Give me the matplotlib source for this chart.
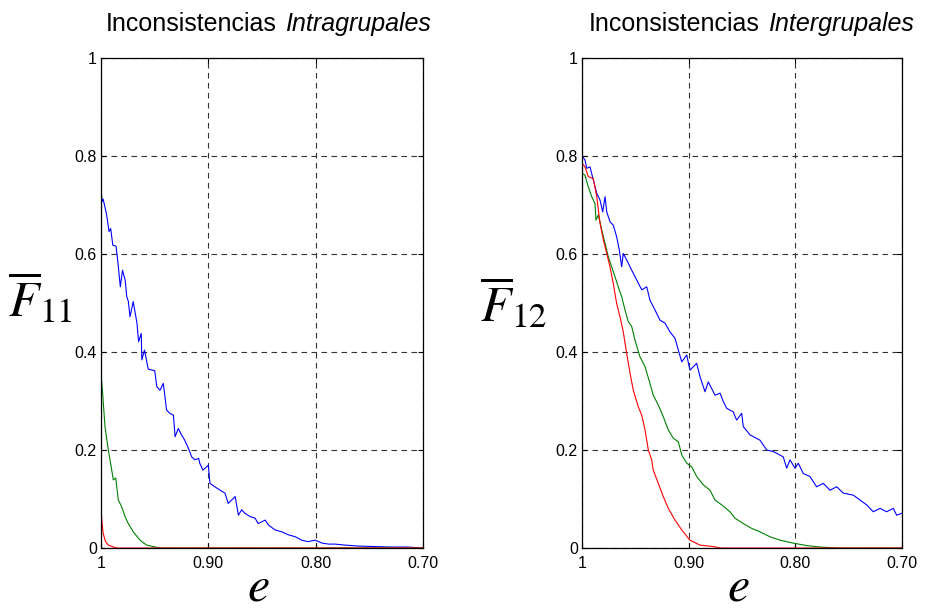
import matplotlib
matplotlib.use('Agg')
import matplotlib.pyplot as plt
from matplotlib.offsetbox import AnchoredOffsetbox, HPacker, TextArea

plt.rcParams['font.family'] = ['Liberation Sans', 'DejaVu Sans']
plt.rcParams['mathtext.fontset'] = 'stix'

# intragroup inconsistency, F11
L_BLUE_X = [1.000, 0.999, 0.998, 0.995, 0.9925, 0.991, 0.989, 0.986, 0.9845, 0.982, 0.980, 0.9775,
            0.976, 0.9745, 0.973, 0.970, 0.9665, 0.965, 0.9625, 0.962, 0.9595, 0.956, 0.950, 0.948,
            0.945, 0.942, 0.940, 0.939, 0.936, 0.9325, 0.931, 0.928, 0.925, 0.922, 0.9185, 0.9155,
            0.9125, 0.909, 0.908, 0.905, 0.900, 0.8985, 0.894, 0.889, 0.8845, 0.8815, 0.875, 0.872,
            0.869, 0.866, 0.861, 0.8565, 0.8535, 0.847, 0.844, 0.838, 0.8315, 0.8255, 0.819, 0.813,
            0.807, 0.8005, 0.794, 0.788, 0.782, 0.773, 0.760, 0.745, 0.730, 0.715, 0.700]
L_BLUE_Y = [0.734, 0.707, 0.712, 0.683, 0.646, 0.652, 0.618, 0.616, 0.588, 0.533, 0.567, 0.547,
            0.513, 0.503, 0.472, 0.503, 0.459, 0.421, 0.438, 0.384, 0.404, 0.365, 0.362, 0.329,
            0.322, 0.336, 0.302, 0.282, 0.275, 0.271, 0.227, 0.244, 0.231, 0.220, 0.203, 0.186,
            0.180, 0.183, 0.173, 0.159, 0.169, 0.132, 0.125, 0.118, 0.112, 0.091, 0.105, 0.067,
            0.078, 0.071, 0.064, 0.061, 0.050, 0.057, 0.047, 0.037, 0.033, 0.027, 0.023, 0.016,
            0.013, 0.016, 0.010, 0.008, 0.008, 0.006, 0.004, 0.003, 0.002, 0.002, 0.000]
L_GREEN_X = [1.000, 0.9985, 0.9963, 0.9932, 0.9916, 0.9885, 0.9863, 0.9839, 0.9807, 0.9776,
             0.9746, 0.9699, 0.9652, 0.9621, 0.9574, 0.9513, 0.945, 0.700]
L_GREEN_Y = [0.357, 0.316, 0.248, 0.200, 0.180, 0.139, 0.143, 0.098, 0.084, 0.064,
             0.050, 0.033, 0.020, 0.013, 0.006, 0.003, 0.000, 0.000]
L_RED_X = [1.000, 0.9990, 0.998, 0.9958, 0.9932, 0.9885, 0.985, 0.700]
L_RED_Y = [0.078, 0.051, 0.030, 0.013, 0.006, 0.002, 0.000, 0.000]

# intergroup inconsistency, F12
R_BLUE_X = [1.000, 0.9972, 0.9956, 0.9925, 0.9894, 0.9862, 0.9831, 0.9806, 0.9784, 0.9768, 0.9738,
            0.9707, 0.9675, 0.9650, 0.9628, 0.9613, 0.9581, 0.9534, 0.9487, 0.9440, 0.9393, 0.9363,
            0.9316, 0.9269, 0.9222, 0.9175, 0.9128, 0.9097, 0.9065, 0.9018, 0.8988, 0.8925, 0.8894,
            0.8847, 0.8816, 0.8753, 0.8706, 0.8675, 0.8643, 0.8582, 0.8550, 0.8503, 0.8488, 0.8425,
            0.8331, 0.8268, 0.8207, 0.8113, 0.8081, 0.8050, 0.8003, 0.7972, 0.7925, 0.7863, 0.7800,
            0.7738, 0.7675, 0.7612, 0.7550, 0.7457, 0.7394, 0.7331, 0.7269, 0.7206, 0.7144, 0.7081,
            0.7050, 0.7000]
R_BLUE_Y = [0.800, 0.792, 0.775, 0.778, 0.751, 0.724, 0.710, 0.686, 0.717, 0.686, 0.666,
            0.659, 0.635, 0.608, 0.574, 0.601, 0.588, 0.567, 0.547, 0.527, 0.533, 0.506,
            0.486, 0.465, 0.459, 0.441, 0.428, 0.404, 0.380, 0.394, 0.363, 0.377, 0.350,
            0.319, 0.339, 0.312, 0.316, 0.299, 0.285, 0.278, 0.261, 0.275, 0.248, 0.231,
            0.220, 0.200, 0.197, 0.186, 0.163, 0.180, 0.163, 0.173, 0.152, 0.146, 0.125,
            0.132, 0.118, 0.125, 0.112, 0.108, 0.098, 0.088, 0.074, 0.081, 0.074, 0.081,
            0.067, 0.071]
R_GREEN_X = [1.000, 0.9972, 0.9941, 0.9909, 0.9878, 0.9869, 0.9847, 0.9815, 0.9784, 0.9753,
             0.9722, 0.9691, 0.9660, 0.9628, 0.9597, 0.9566, 0.9534, 0.9503, 0.9456, 0.9409,
             0.9363, 0.9332, 0.9285, 0.9238, 0.9191, 0.9144, 0.9097, 0.9065, 0.9018, 0.8972,
             0.8925, 0.8863, 0.8800, 0.8753, 0.8690, 0.8613, 0.8566, 0.8488, 0.8409, 0.8331,
             0.8238, 0.8144, 0.8019, 0.7893, 0.7769, 0.760, 0.700]
R_GREEN_Y = [0.765, 0.761, 0.737, 0.717, 0.703, 0.669, 0.680, 0.649, 0.622, 0.594,
             0.574, 0.554, 0.533, 0.513, 0.486, 0.462, 0.452, 0.424, 0.390, 0.370,
             0.336, 0.312, 0.292, 0.268, 0.241, 0.224, 0.217, 0.190, 0.173, 0.166,
             0.146, 0.129, 0.118, 0.098, 0.088, 0.074, 0.061, 0.050, 0.040, 0.033,
             0.023, 0.016, 0.010, 0.005, 0.002, 0.000, 0.000]
R_RED_X = [1.000, 0.9972, 0.9941, 0.9894, 0.9862, 0.9831, 0.9800, 0.9768, 0.9738, 0.9707,
           0.9675, 0.9644, 0.9613, 0.9581, 0.9550, 0.9519, 0.9472, 0.9440, 0.9409, 0.9378,
           0.9347, 0.9332, 0.9285, 0.9238, 0.9191, 0.9128, 0.9065, 0.8988, 0.8894, 0.8769,
           0.870, 0.700]
R_RED_Y = [0.785, 0.778, 0.758, 0.754, 0.717, 0.663, 0.629, 0.601, 0.574, 0.540,
           0.499, 0.472, 0.441, 0.397, 0.357, 0.322, 0.288, 0.271, 0.241, 0.200,
           0.180, 0.159, 0.132, 0.105, 0.081, 0.057, 0.037, 0.016, 0.006, 0.003,
           0.000, 0.000]

X_TICKS = [1.0, 0.9, 0.8, 0.7]
X_TICK_LABELS = ['1', '0.90', '0.80', '0.70']
Y_TICKS = [0, 0.2, 0.4, 0.6, 0.8, 1.0]
Y_TICK_LABELS = ['0', '0.2', '0.4', '0.6', '0.8', '1']

BLUE = '#0000ff'
GREEN = '#008000'
RED = '#ff0000'


def _title(ax, plain, italic, xc):
    parts = [
        TextArea(plain, textprops=dict(fontsize=18, family='Liberation Sans')),
        TextArea(italic, textprops=dict(fontsize=18, family='Liberation Sans', style='italic')),
    ]
    box = HPacker(children=parts, align='baseline', pad=0, sep=6)
    anchored = AnchoredOffsetbox(loc='lower center', child=box, pad=0, borderpad=0, frameon=False,
                                 bbox_to_anchor=(xc, 1.045), bbox_transform=ax.transAxes)
    ax.add_artist(anchored)


def _setup(ax):
    ax.set_xlim(1.0, 0.7)
    ax.set_ylim(0, 1)
    ax.set_xticks(X_TICKS)
    ax.set_xticklabels(X_TICK_LABELS)
    ax.set_yticks(Y_TICKS)
    ax.set_yticklabels(Y_TICK_LABELS)
    ax.tick_params(direction='in', top=True, right=True, length=3.5, width=0.8, labelsize=11.5)
    ax.tick_params(axis='x', pad=6)
    ax.tick_params(axis='y', pad=3)
    ax.grid(True, color='0.2', linestyle=(0, (5, 4)), linewidth=0.8)
    for sp in ax.spines.values():
        sp.set_linewidth(0.9)
        sp.set_color('black')


fig = plt.figure(figsize=(9.25, 6.13), dpi=100)
ax1 = fig.add_axes([0.1092, 0.1060, 0.3481, 0.7993])
ax2 = fig.add_axes([0.6292, 0.1060, 0.3459, 0.7993])

for ax in (ax1, ax2):
    _setup(ax)

ax1.plot(L_BLUE_X, L_BLUE_Y, color=BLUE, lw=0.8)
ax1.plot(L_GREEN_X, L_GREEN_Y, color=GREEN, lw=0.8)
ax1.plot(L_RED_X, L_RED_Y, color=RED, lw=0.8)

ax2.plot(R_BLUE_X, R_BLUE_Y, color=BLUE, lw=0.8)
ax2.plot(R_GREEN_X, R_GREEN_Y, color=GREEN, lw=0.8)
ax2.plot(R_RED_X, R_RED_Y, color=RED, lw=0.8)

_title(ax1, 'Inconsistencias', 'Intragrupales', 0.52)
_title(ax2, 'Inconsistencias', 'Intergrupales', 0.53)

ax1.text(-0.19, 0.51, r'$\overline{F}_{11}$', transform=ax1.transAxes,
         ha='center', va='center', fontsize=36)
ax2.text(-0.215, 0.50, r'$\overline{F}_{12}$', transform=ax2.transAxes,
         ha='center', va='center', fontsize=36)

ax1.text(0.49, -0.128, r'$e$', transform=ax1.transAxes, ha='center', va='bottom', fontsize=36)
ax2.text(0.49, -0.128, r'$e$', transform=ax2.transAxes, ha='center', va='bottom', fontsize=36)

fig.savefig('out.png', dpi=100)
plt.close(fig)
